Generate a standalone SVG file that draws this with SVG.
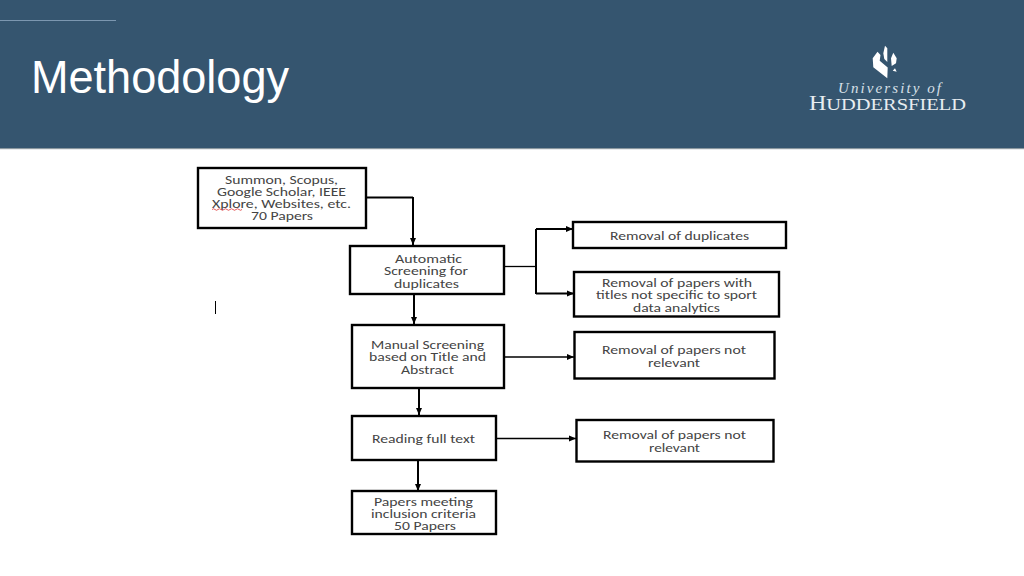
<svg xmlns="http://www.w3.org/2000/svg" width="1024" height="576" viewBox="0 0 1024 576">
<style>
.box{fill:#fff;stroke:#000;stroke-width:2.4}
.t{font-family:Carlito,"Open Sans","DejaVu Sans",sans-serif;font-size:11.5px;fill:#444;transform:translateY(.5px)}
.c{fill:none;stroke:#000;stroke-width:1.3}
.v{stroke-width:2}
.h{marker-end:url(#a)}
</style>
<defs><marker id="a" markerUnits="userSpaceOnUse" markerWidth="8" markerHeight="8" refX="7" refY="3.500" orient="auto"><path d="M0 0.500L7 3.500L0 6.500z" fill="#000"/></marker></defs>
<rect width="1024" height="576" fill="#fff"/>
<g id="header">
<rect width="1024" height="148" fill="#35556f"/>
<rect y="148" width="1024" height="1.2" fill="#8a979f"/>
<rect y="20" width="116" height="1" fill="#7c97b0"/>
<text x="31" y="93" font-family="'Liberation Sans',Arial,sans-serif" font-size="47" fill="#fff" textLength="258" lengthAdjust="spacingAndGlyphs">Methodology</text>
</g>
<g id="logo">
<path d="M877.500 51.700L872.700 58.300L873.300 67.300L887.300 78.300L887.700 67.500L879.700 60.700L880.500 55Z M885 45.700L887.300 48.300L887.300 62L884.300 59L883.300 53.300Z M893.300 52.700L896.700 58.300L896 63.300L891.700 66L891 58.300Z M895 68.300L896.700 71.700L892.700 70.700Z" fill="#fff"/>
<text x="838" y="93" font-family="'Liberation Serif',serif" font-style="italic" font-size="15" fill="#d8e0e8" textLength="103" lengthAdjust="spacing">University of</text>
<text x="809" y="110" font-family="'Liberation Serif',serif" font-size="20" fill="#e8edf1" textLength="157" lengthAdjust="spacingAndGlyphs">H<tspan font-size="17">UDDERSFIELD</tspan></text>
</g>
<g id="connectors">
<path class="c v" d="M366 197.500H413"/><path class="c v h" d="M413 197V245"/>
<path class="c v h" d="M414 294V324"/>
<path class="c" d="M504 266.500H536"/><path class="c v" d="M536 229V294"/>
<path class="c v h" d="M536 229H573"/><path class="c v h" d="M536 293.500H574"/>
<path class="c h" d="M504 357H574"/>
<path class="c v h" d="M419 388V415"/>
<path class="c h" d="M496 438.500H576"/>
<path class="c v h" d="M418 460V491"/>
</g>
<g id="n1"><rect class="box" x="198" y="168" width="168" height="60"/><text class="t" x="225" y="183" textLength="113" lengthAdjust="spacingAndGlyphs">Summon, Scopus,</text><text class="t" x="217" y="195" textLength="129" lengthAdjust="spacingAndGlyphs">Google Scholar, IEEE</text><text class="t" x="212" y="207" textLength="139" lengthAdjust="spacingAndGlyphs">Xplore, Websites, etc.</text><text class="t" x="251" y="219" textLength="62" lengthAdjust="spacingAndGlyphs">70 Papers</text><path d="M212 209.500q1.500-1.500 3 0t3 0 3 0 3 0 3 0 3 0 3 0 3 0 3 0 3 0" fill="none" stroke="#d33" stroke-width=".8"/></g>
<g id="n2"><rect class="box" x="350" y="246" width="154" height="48"/><text class="t" x="395" y="262" textLength="67" lengthAdjust="spacingAndGlyphs">Automatic</text><text class="t" x="384" y="274" textLength="84" lengthAdjust="spacingAndGlyphs">Screening for</text><text class="t" x="394" y="287" textLength="65" lengthAdjust="spacingAndGlyphs">duplicates</text></g>
<g id="n3"><rect class="box" x="352" y="325" width="152" height="63"/><text class="t" x="371" y="348" textLength="113" lengthAdjust="spacingAndGlyphs">Manual Screening</text><text class="t" x="369" y="360" textLength="117" lengthAdjust="spacingAndGlyphs">based on Title and</text><text class="t" x="401" y="373" textLength="53" lengthAdjust="spacingAndGlyphs">Abstract</text></g>
<g id="n4"><rect class="box" x="352" y="416" width="144" height="44"/><text class="t" x="372" y="442" textLength="103" lengthAdjust="spacingAndGlyphs">Reading full text</text></g>
<g id="n5"><rect class="box" x="352" y="491" width="144" height="43"/><text class="t" x="374" y="505" textLength="99" lengthAdjust="spacingAndGlyphs">Papers meeting</text><text class="t" x="371" y="517" textLength="105" lengthAdjust="spacingAndGlyphs">inclusion criteria</text><text class="t" x="394" y="529" textLength="62" lengthAdjust="spacingAndGlyphs">50 Papers</text></g>
<g id="n6"><rect class="box" x="573" y="222" width="213" height="26"/><text class="t" x="610" y="239" textLength="139" lengthAdjust="spacingAndGlyphs">Removal of duplicates</text></g>
<g id="n7"><rect class="box" x="574" y="272" width="205" height="44.500"/><text class="t" x="602" y="286" textLength="150" lengthAdjust="spacingAndGlyphs">Removal of papers with</text><text class="t" x="596" y="298" textLength="161" lengthAdjust="spacingAndGlyphs">titles not specific to sport</text><text class="t" x="633" y="311" textLength="87" lengthAdjust="spacingAndGlyphs">data analytics</text></g>
<g id="n8"><rect class="box" x="574.500" y="332" width="200" height="46.500"/><text class="t" x="602" y="353" textLength="144" lengthAdjust="spacingAndGlyphs">Removal of papers not</text><text class="t" x="648" y="366" textLength="52" lengthAdjust="spacingAndGlyphs">relevant</text></g>
<g id="n9"><rect class="box" x="576.500" y="420" width="197" height="41.500"/><text class="t" x="603" y="438" textLength="143" lengthAdjust="spacingAndGlyphs">Removal of papers not</text><text class="t" x="649" y="451" textLength="51" lengthAdjust="spacingAndGlyphs">relevant</text></g>
<path d="M215.500 301V314" stroke="#000" stroke-width="1"/>
</svg>
